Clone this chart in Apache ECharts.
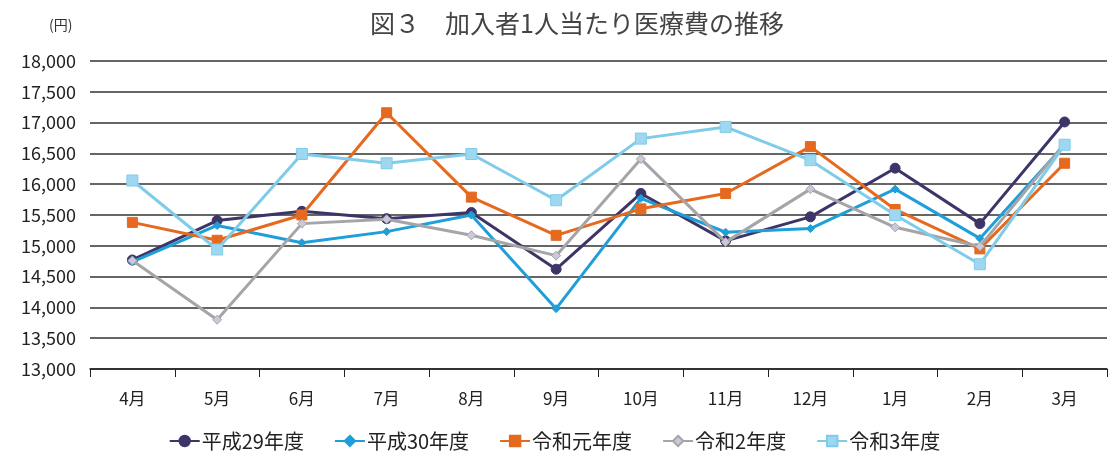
<!DOCTYPE html>
<html>
<head>
<meta charset="utf-8">
<script src="https://cdn.jsdelivr.net/npm/echarts@6/dist/echarts.min.js"></script>
<style>
html,body{margin:0;padding:0;background:#fff;}
#main{width:1109px;height:456px;}
</style>
</head>
<body>
<div id="main"></div>
<script>
const categories = ['4月','5月','6月','7月','8月','9月','10月','11月','12月','1月','2月','3月'];
const seriesNames = ['平成29年度','平成30年度','令和元年度','令和2年度','令和3年度'];
const h29 = [14770,15410,15560,15440,15540,14620,15850,15080,15470,16260,15360,17010];
const h30 = [14740,15330,15050,15230,15500,13980,15770,15220,15280,15920,15120,16640];
const r1  = [15380,15090,15500,17160,15790,15170,15600,15850,16610,15590,14950,16340];
const r2  = [14760,13800,15360,15430,15170,14840,16410,15060,15920,15300,14990,16660];
const r3  = [16060,14940,16490,16340,16490,15740,16740,16930,16390,15500,14700,16640];
const yTicks = {min:13000, max:18000, interval:500};

const colors = ['#3D3468','#1F9ED8','#E5691E','#A5A5A8','#7FCBEA'];
const symbols = ['circle','diamond','rect','diamond','rect'];
const symbolSizes = [10,8,10,9,11];
const symbolFills = ['#3D3468','#1F9ED8','#E5691E','#C9C9DA','#9ED8F0'];
const dataSets = [h29,h30,r1,r2,r3];
const font = '"Noto Sans CJK JP", "Noto Sans", sans-serif';

const chart = echarts.init(document.getElementById('main'));
chart.setOption({
  animation:false,
  backgroundColor:'#fff',
  textStyle:{fontFamily:font},
  title:[
    {text:'図３　加入者1人当たり医療費の推移', left:572, top:6, textAlign:'center',
     textStyle:{fontSize:25, fontWeight:'normal', color:'#444', fontFamily:font}},
    {text:'(円)', left:44, top:13,
     textStyle:{fontSize:14, fontWeight:'normal', color:'#333', fontFamily:font}}
  ],
  legend:{
    data:seriesNames, left:'center', top:426, itemWidth:30, itemHeight:13, itemGap:30,
    textStyle:{fontSize:20, color:'#222', fontFamily:font, padding:[0,0,0,-3]}
  },
  grid:{left:90, right:2, top:61, bottom:87, containLabel:false},
  xAxis:{
    type:'category', data:categories, boundaryGap:true,
    axisLine:{lineStyle:{color:'#222', width:1.5}},
    axisTick:{show:true, length:8, lineStyle:{color:'#222'}},
    axisLabel:{fontSize:17, color:'#222', margin:21, fontFamily:font}
  },
  yAxis:{
    type:'value', min:yTicks.min, max:yTicks.max, interval:yTicks.interval,
    axisLine:{show:false}, axisTick:{show:false},
    axisLabel:{fontSize:18, color:'#222', margin:14, fontFamily:font,
      formatter:v=>v.toLocaleString('en-US')},
    splitLine:{lineStyle:{color:'#333', width:1.5}}
  },
  series:dataSets.map((d,i)=>({
    name:seriesNames[i], type:'line', data:d,
    symbol:symbols[i], symbolSize:symbolSizes[i],
    lineStyle:{color:colors[i], width:3},
    itemStyle:{color:symbolFills[i], borderColor:colors[i], borderWidth:1},
    z:2+i
  }))
});
</script>
</body>
</html>
